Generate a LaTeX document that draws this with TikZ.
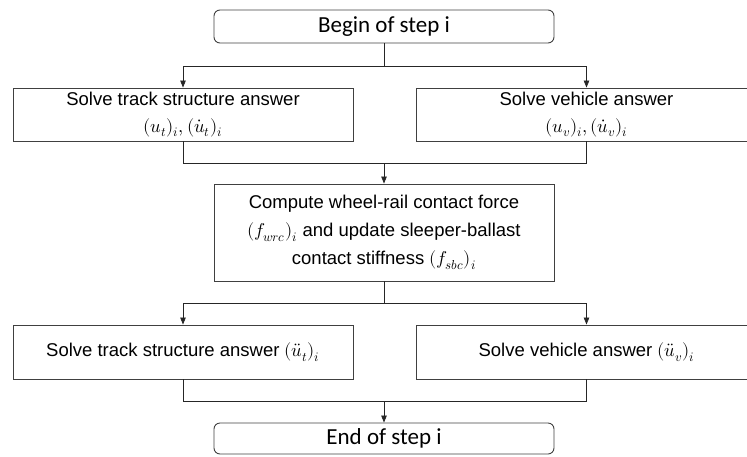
\documentclass[tikz,border=0pt]{standalone}
\usepackage{fontspec}
\usepackage{unicode-math}
\setmainfont{Liberation Sans}
\setmathfont{Latin Modern Math}
\newfontfamily\calfont{Carlito}
\usetikzlibrary{arrows.meta}
\begin{document}
\begin{tikzpicture}[x=1pt,y=-1pt,
  box/.style={draw=black!75,line width=0.9pt,align=center,inner sep=0pt,
    font=\fontsize{18.5}{27}\selectfont,minimum width=340pt},
  termbox/.style={box,rounded corners=6pt,font=\calfont\fontsize{23}{24}\selectfont},
  link/.style={draw=black!85,line width=0.8pt},
  arr/.style={link,-{Triangle[length=7pt,width=5.5pt]}}]
\useasboundingbox (0,0) rectangle (747,456);

% terminal boxes
\node[termbox,minimum height=33pt] (begin) at (384,26.5) {Begin of step i};
\node[termbox,minimum height=31pt] (end) at (384,438.5) {End of step i};

% first solve stage
\node[box,minimum height=53pt] (trackA) at (183,114.5)
  {Solve track structure answer\\$(u_t)_i,(\dot{u}_t)_i$};
\node[box,minimum height=53pt] (vehA) at (586.5,114.5)
  {Solve vehicle answer\\$(u_v)_i,(\dot{u}_v)_i$};

% contact update
\node[box,minimum height=97pt,font=\fontsize{18.5}{28}\selectfont] (contact) at (384,232.5)
  {Compute wheel-rail contact force\\$(f_{wrc})_i$ and update sleeper-ballast\\contact stiffness $(f_{sbc})_i$};

% second solve stage
\node[box,minimum height=54pt] (trackB) at (183,352)
  {Solve track structure answer $(\ddot{u}_t)_i$};
\node[box,minimum height=54pt] (vehB) at (586.5,352)
  {Solve vehicle answer $(\ddot{u}_v)_i$};

% junction points
\coordinate (s1) at (384,66);
\coordinate (m1) at (384,163);
\coordinate (s2) at (384,303);
\coordinate (m2) at (384,401);

% connectors
\draw[link] (begin.south) -- (s1);
\draw[arr] (s1) -| (trackA.north);
\draw[arr] (s1) -| (vehA.north);

\draw[link] (trackA.south) |- (m1);
\draw[link] (vehA.south) |- (m1);
\draw[arr] (m1) -- (contact.north);

\draw[link] (contact.south) -- (s2);
\draw[arr] (s2) -| (trackB.north);
\draw[arr] (s2) -| (vehB.north);

\draw[link] (trackB.south) |- (m2);
\draw[link] (vehB.south) |- (m2);
\draw[arr] (m2) -- (end.north);
\end{tikzpicture}
\end{document}
